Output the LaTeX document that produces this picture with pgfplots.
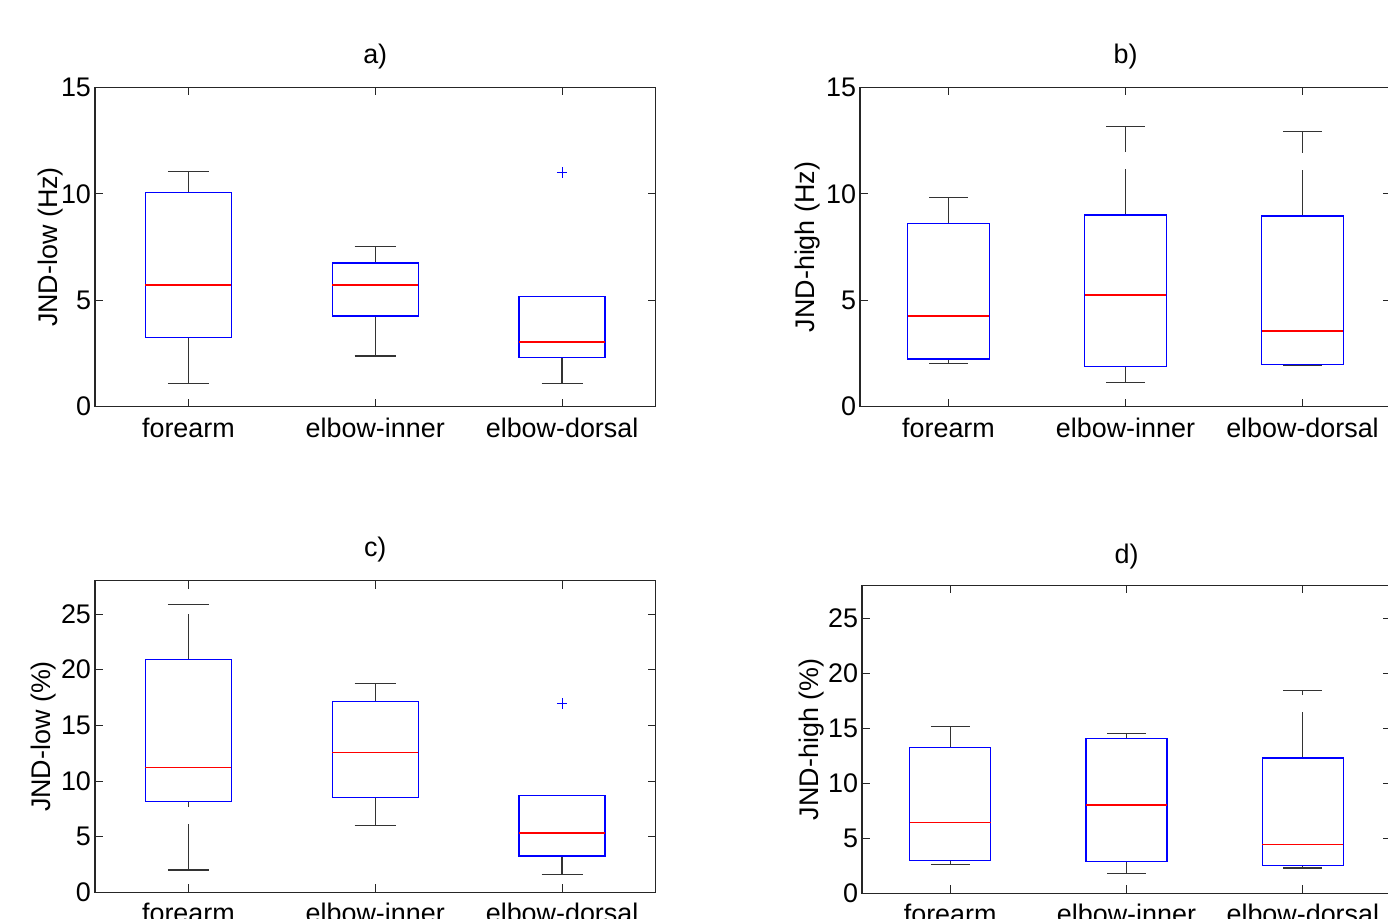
\documentclass[border=0pt]{standalone}
\usepackage{fontspec}
\setmainfont{Liberation Sans}
\usepackage{pgfplots}
\pgfplotsset{compat=1.18}
\usepgfplotslibrary{statistics}

\pgfplotsset{
  boxplot/draw/lower whisker/.code={%
    \draw[/pgfplots/boxplot/every whisker/.try, dash pattern=on 23bp off 8.5bp]
      (boxplot box cs:\pgfplotsboxplotvalue{lower whisker},0.5) -- (boxplot box cs:\pgfplotsboxplotvalue{lower quartile},0.5);
    \draw[/pgfplots/boxplot/every whisker/.try]
      (boxplot whisker cs:\pgfplotsboxplotvalue{lower whisker},0) -- (boxplot whisker cs:\pgfplotsboxplotvalue{lower whisker},1);
  },
  boxplot/draw/upper whisker/.code={%
    \draw[/pgfplots/boxplot/every whisker/.try, dash pattern=on 23bp off 8.5bp]
      (boxplot box cs:\pgfplotsboxplotvalue{upper quartile},0.5) -- (boxplot box cs:\pgfplotsboxplotvalue{upper whisker},0.5);
    \draw[/pgfplots/boxplot/every whisker/.try]
      (boxplot whisker cs:\pgfplotsboxplotvalue{upper whisker},0) -- (boxplot whisker cs:\pgfplotsboxplotvalue{upper whisker},1);
  },
  mybox/.style={
    scale only axis,
    xmin=0.5, xmax=3.5,
    xtick={1,2,3}, xticklabels={forearm,elbow-inner,elbow-dorsal},
    tick align=inside, major tick length=4bp,
    axis line style={line width=0.65bp, black!85},
    every tick/.style={line width=0.5bp, black!85},
    /pgf/number format/assume math mode=true,
    tick label style={font=\fontsize{13.5}{15}\selectfont},
    label style={font=\fontsize{13.5}{15}\selectfont},
    title style={font=\fontsize{13.5}{15}\selectfont, at={(axis description cs:0.5,1)}, anchor=center, yshift=9.5bp},
    yticklabel style={xshift=1.5bp},
    xticklabel style={yshift=-2bp},
    boxplot/draw direction=y,
    boxplot/box extend=0.46,
    boxplot/whisker extend=0.22,
    boxplot/every box/.style={draw=blue, line width=0.7bp},
    boxplot/every whisker/.style={draw=black!80, line width=0.6bp},
    boxplot/every median/.style={draw=red, line width=0.7bp},
  },
  outl/.style={mark=+, mark size=2.6bp, mark options={draw=blue, line width=0.5bp, solid}},
}

\begin{document}
\begin{tikzpicture}
\useasboundingbox (0bp,0bp) rectangle (694bp,459.5bp);
\clip (0bp,0bp) rectangle (694bp,459.5bp);

% ---------- a) ----------
\begin{axis}[mybox, at={(47.5bp,256.15bp)}, anchor=south west, width=280.25bp, height=159.7bp,
  ymin=0, ymax=15, ytick={0,5,10,15}, title={a)},
  ylabel={JND-low (Hz)}, ylabel style={at={(axis description cs:-0.08,0.5)}, anchor=center}]
\addplot[boxplot prepared={lower whisker=1.08, lower quartile=3.26, median=5.72, upper quartile=10.05, upper whisker=11.04, draw position=1}] coordinates {};
\addplot[boxplot prepared={lower whisker=2.38, lower quartile=4.25, median=5.72, upper quartile=6.75, upper whisker=7.52, draw position=2}] coordinates {};
\addplot[outl, boxplot prepared={lower whisker=1.08, lower quartile=2.30, median=3.04, upper quartile=5.18, upper whisker=5.18, draw position=3}] table[row sep=\\,y index=0] {data\\ 11.0\\};
\end{axis}

% ---------- b) ----------
\begin{axis}[mybox, at={(430bp,256.15bp)}, anchor=south west, width=265.5bp, height=159.7bp,
  ymin=0, ymax=15, ytick={0,5,10,15}, title={b)},
  ylabel={JND-high (Hz)}, ylabel style={at={(axis description cs:-0.099,0.5)}, anchor=center}]
\addplot[boxplot prepared={lower whisker=2.02, lower quartile=2.24, median=4.25, upper quartile=8.61, upper whisker=9.84, draw position=1}] coordinates {};
\addplot[boxplot prepared={lower whisker=1.13, lower quartile=1.90, median=5.25, upper quartile=9.00, upper whisker=13.14, draw position=2}] coordinates {};
\addplot[boxplot prepared={lower whisker=1.94, lower quartile=1.99, median=3.56, upper quartile=8.96, upper whisker=12.92, draw position=3}] coordinates {};
\end{axis}

% ---------- c) ----------
\begin{axis}[mybox, at={(47.5bp,13.35bp)}, anchor=south west, width=280.25bp, height=155.8bp,
  ymin=0, ymax=28, ytick={0,5,10,15,20,25}, title={c)},
  ylabel={JND-low (\%)}, ylabel style={at={(axis description cs:-0.092,0.5)}, anchor=center}]
\addplot[boxplot prepared={lower whisker=2.0, lower quartile=8.18, median=11.2, upper quartile=20.9, upper whisker=25.84, draw position=1}] coordinates {};
\addplot[boxplot prepared={lower whisker=6.02, lower quartile=8.5, median=12.54, upper quartile=17.16, upper whisker=18.78, draw position=2}] coordinates {};
\addplot[outl, boxplot prepared={lower whisker=1.62, lower quartile=3.26, median=5.33, upper quartile=8.68, upper whisker=8.68, draw position=3}] table[row sep=\\,y index=0] {data\\ 16.95\\};
\end{axis}

% ---------- d) ----------
\begin{axis}[mybox, at={(431bp,12.85bp)}, anchor=south west, width=264.5bp, height=154bp,
  ymin=0, ymax=28, ytick={0,5,10,15,20,25}, title={d)}, title style={yshift=-1bp},
  ylabel={JND-high (\%)}, ylabel style={at={(axis description cs:-0.095,0.5)}, anchor=center}]
\addplot[boxplot prepared={lower whisker=2.6, lower quartile=3.0, median=6.45, upper quartile=13.27, upper whisker=15.15, draw position=1}] coordinates {};
\addplot[boxplot prepared={lower whisker=1.82, lower quartile=2.88, median=8.03, upper quartile=14.06, upper whisker=14.55, draw position=2}] coordinates {};
\addplot[boxplot prepared={lower whisker=2.3, lower quartile=2.51, median=4.42, upper quartile=12.3, upper whisker=18.45, draw position=3}] coordinates {};
\end{axis}
\end{tikzpicture}
\end{document}
